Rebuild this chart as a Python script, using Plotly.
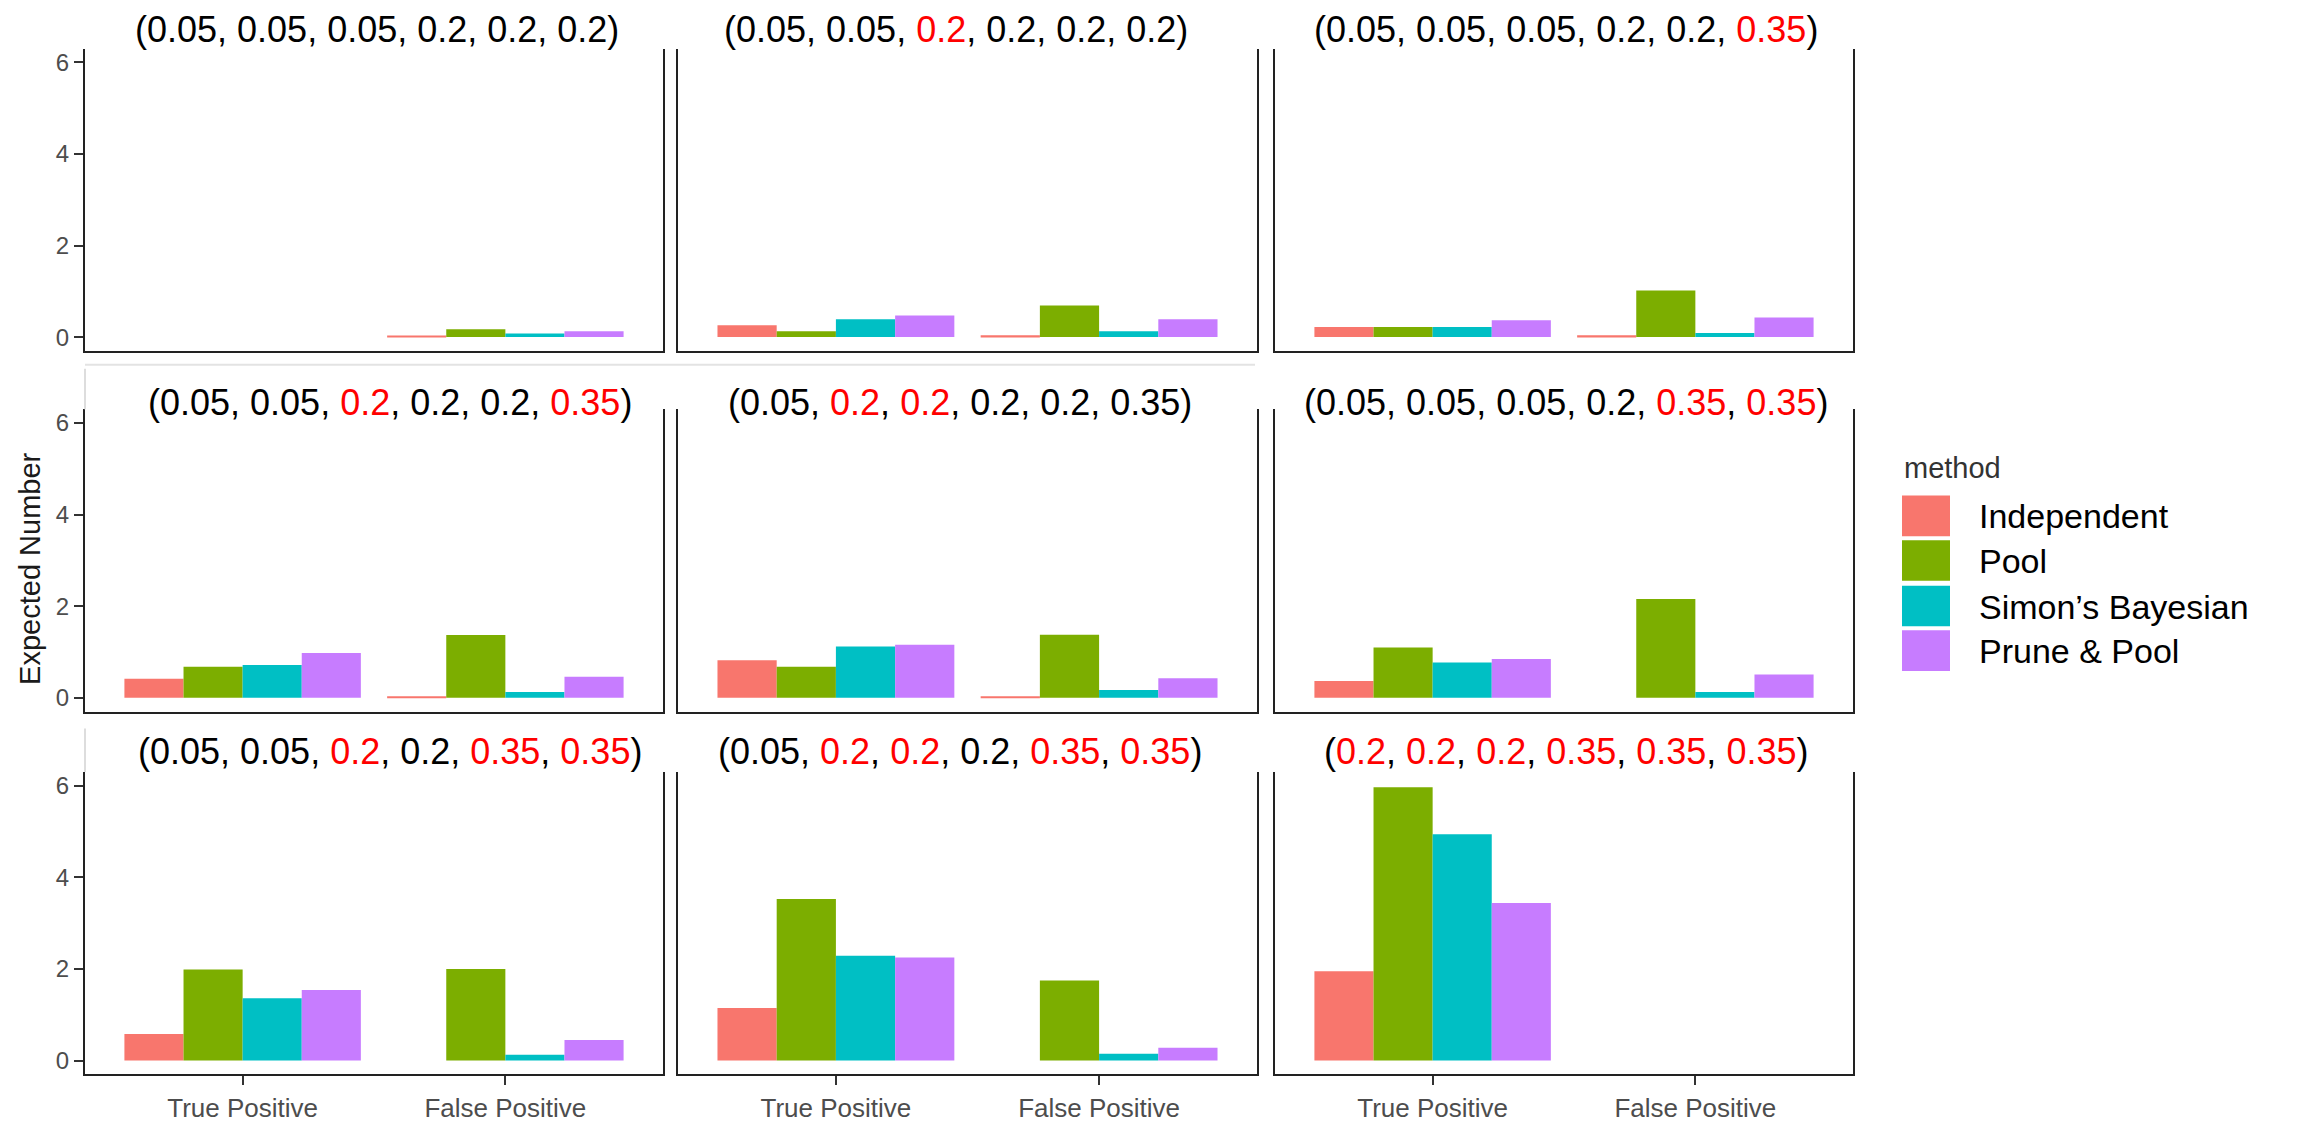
import plotly.graph_objects as go

W, H = 2298, 1123

# ---------------- data ----------------
methods = ["Independent", "Pool", "Simon’s Bayesian", "Prune & Pool"]
colors = ["#F8766D", "#7CAE00", "#00BFC4", "#C77CFF"]
outcomes = ["True Positive", "False Positive"]

scenario_labels = [
    ["0.05", "0.05", "0.05", "0.2", "0.2", "0.2"],
    ["0.05", "0.05", "0.2", "0.2", "0.2", "0.2"],
    ["0.05", "0.05", "0.05", "0.2", "0.2", "0.35"],
    ["0.05", "0.05", "0.2", "0.2", "0.2", "0.35"],
    ["0.05", "0.2", "0.2", "0.2", "0.2", "0.35"],
    ["0.05", "0.05", "0.05", "0.2", "0.35", "0.35"],
    ["0.05", "0.05", "0.2", "0.2", "0.35", "0.35"],
    ["0.05", "0.2", "0.2", "0.2", "0.35", "0.35"],
    ["0.2", "0.2", "0.2", "0.35", "0.35", "0.35"],
]
scenario_highlight = [
    [0, 0, 0, 0, 0, 0],
    [0, 0, 1, 0, 0, 0],
    [0, 0, 0, 0, 0, 1],
    [0, 0, 1, 0, 0, 1],
    [0, 1, 1, 0, 0, 0],
    [0, 0, 0, 0, 1, 1],
    [0, 0, 1, 0, 1, 1],
    [0, 1, 1, 0, 1, 1],
    [1, 1, 1, 1, 1, 1],
]

independent_tp = [0.0, 0.26, 0.22, 0.42, 0.82, 0.37, 0.58, 1.15, 1.95]
independent_fp = [0.03, 0.04, 0.04, 0.03, 0.03, 0.0, 0.0, 0.0, 0.0]
pool_tp = [0.0, 0.13, 0.22, 0.68, 0.68, 1.10, 1.99, 3.53, 5.97]
pool_fp = [0.17, 0.69, 1.02, 1.37, 1.38, 2.16, 2.00, 1.75, 0.0]
simon_tp = [0.0, 0.39, 0.22, 0.72, 1.12, 0.77, 1.36, 2.29, 4.94]
simon_fp = [0.08, 0.13, 0.09, 0.13, 0.17, 0.13, 0.13, 0.15, 0.0]
prune_tp = [0.0, 0.47, 0.37, 0.98, 1.16, 0.85, 1.54, 2.25, 3.44]
prune_fp = [0.13, 0.39, 0.43, 0.46, 0.43, 0.51, 0.45, 0.28, 0.0]

y_ticks = [0, 2, 4, 6]

series_tp = [independent_tp, pool_tp, simon_tp, prune_tp]
series_fp = [independent_fp, pool_fp, simon_fp, prune_fp]

# ---------------- layout geometry (pixels) ----------------
col_px = [(85, 663), (678, 1257), (1275, 1853)]
row_px = [(49, 354), (413, 718), (779, 1084)]
title_x_px = [[377, 956, 1566], [390, 960, 1566], [390, 960, 1566]]
title_y_px = [30, 406, 758]

FONT = "Liberation Sans, Arial, Helvetica, sans-serif"
LINE = "#222222"

fig = go.Figure()
layout_axes = {}
annotations = []

for i in range(9):
    r, c = divmod(i, 3)
    xn = "x" if i == 0 else f"x{i+1}"
    yn = "y" if i == 0 else f"y{i+1}"
    for m in range(4):
        fig.add_trace(go.Bar(
            x=outcomes,
            y=[series_tp[m][i], series_fp[m][i]],
            name=methods[m],
            marker=dict(color=colors[m], line=dict(width=0)),
            xaxis=xn, yaxis=yn,
            showlegend=False,
            legendgroup=methods[m],
        ))
    x0, x1 = col_px[c]
    y0, y1 = row_px[r]
    layout_axes["xaxis" if i == 0 else f"xaxis{i+1}"] = dict(
        domain=[x0 / W, x1 / W], anchor=yn, type="category",
        categoryorder="array", categoryarray=outcomes,
        range=[-0.6, 1.6],
        showline=True, linecolor=LINE, linewidth=2, mirror=False,
        ticks="outside" if r == 2 else "", ticklen=9, tickwidth=2, tickcolor="#333333",
        showticklabels=(r == 2),
        tickfont=dict(family=FONT, size=26, color="#4d4d4d"),
        showgrid=False, zeroline=False, fixedrange=True,
    )
    layout_axes["yaxis" if i == 0 else f"yaxis{i+1}"] = dict(
        domain=[1 - y1 / H, 1 - y0 / H], anchor=xn,
        range=[-0.3, 6.3], tickvals=y_ticks, ticktext=[str(v) for v in y_ticks],
        showticklabels=(c == 0),
        ticks="outside" if c == 0 else "", ticklen=9, tickwidth=2, tickcolor="#333333",
        showline=True, mirror=True, linecolor=LINE, linewidth=2,
        tickfont=dict(family=FONT, size=24, color="#4d4d4d"),
        showgrid=False, zeroline=False, fixedrange=True,
    )
    parts = []
    for lab, hl in zip(scenario_labels[i], scenario_highlight[i]):
        parts.append(f'<span style="color:#ff0000">{lab}</span>' if hl else lab)
    annotations.append(dict(
        text="(" + ", ".join(parts) + ")",
        x=title_x_px[r][c] / W, y=1 - title_y_px[r] / H,
        xref="paper", yref="paper", xanchor="center", yanchor="middle",
        showarrow=False, font=dict(family=FONT, size=36, color="#000000"),
    ))

# y axis title
annotations.append(dict(
    text="Expected Number", textangle=-90,
    x=30 / W, y=1 - 574 / H, xref="paper", yref="paper",
    xanchor="center", yanchor="middle", showarrow=False,
    font=dict(family=FONT, size=29, color="#1a1a1a"),
))

# legend (drawn manually to get ggplot-sized keys)
shapes = []
annotations.append(dict(
    text="method", x=1902 / W, y=1 - 472 / H, xref="paper", yref="paper",
    xanchor="left", yanchor="middle", showarrow=False,
    font=dict(family=FONT, size=29, color="#333333"),
))
key_top = [500, 545, 591, 636]
for m in range(4):
    shapes.append(dict(
        type="rect", xref="paper", yref="paper",
        x0=1902 / W, x1=1950 / W,
        y0=1 - (key_top[m] + 41) / H, y1=1 - key_top[m] / H,
        fillcolor=colors[m], line=dict(width=0),
    ))
    annotations.append(dict(
        text=methods[m], x=1977 / W, y=1 - (key_top[m] + 21) / H,
        xref="paper", yref="paper", xanchor="left", yanchor="middle",
        showarrow=False, font=dict(family=FONT, size=34, color="#000000"),
    ))

# faint remnant lines of the composed figure
shapes.append(dict(type="line", xref="paper", yref="paper",
                   x0=85 / W, x1=1255 / W, y0=1 - 368 / H, y1=1 - 368 / H,
                   line=dict(color="#e3e3e3", width=2)))
for (ya, yb) in [(372, 413), (735, 779)]:
    shapes.append(dict(type="line", xref="paper", yref="paper",
                       x0=85 / W, x1=85 / W, y0=1 - ya / H, y1=1 - yb / H,
                       line=dict(color="#dddddd", width=2)))

fig.update_layout(
    width=W, height=H,
    margin=dict(l=0, r=0, t=0, b=0),
    paper_bgcolor="white", plot_bgcolor="white",
    barmode="group", bargap=0.1, bargroupgap=0,
    showlegend=False,
    annotations=annotations, shapes=shapes,
    font=dict(family=FONT),
    **layout_axes,
)

fig.write_html(
    "out.html",
    config={"displayModeBar": False},
    post_script="document.body.style.margin='0';document.body.style.overflow='hidden';",
)
